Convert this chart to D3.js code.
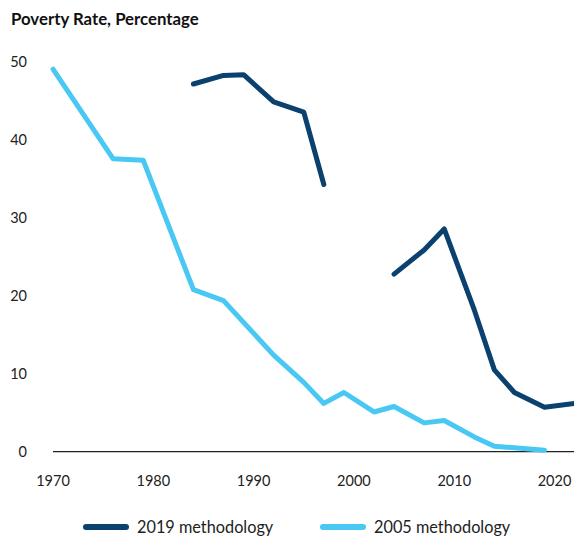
<!DOCTYPE html>
<html>
<head>
<meta charset="utf-8">
<script src="https://cdn.jsdelivr.net/npm/d3@7"></script>
<style>
  body { margin: 0; background: #fff; }
  svg { display: block; font-family: Lato, "Noto Sans", sans-serif; }
</style>
</head>
<body>
<svg id="chart" width="574" height="537"></svg>
<script>
// data
var years2005 = [1970, 1976, 1979, 1984, 1987, 1992, 1995, 1997, 1999, 2002, 2004, 2007, 2009, 2012, 2014, 2016, 2019];
var rate2005  = [49.1, 37.6, 37.4, 20.8, 19.4, 12.4, 8.9, 6.2, 7.6, 5.1, 5.8, 3.7, 4.0, 1.9, 0.7, 0.5, 0.2];

var years2019a = [1984, 1987, 1989, 1992, 1995, 1997];
var rate2019a  = [47.2, 48.3, 48.4, 44.9, 43.6, 34.3];
var years2019b = [2004, 2007, 2009, 2012, 2014, 2016, 2019, 2022];
var rate2019b  = [22.8, 25.9, 28.6, 18.2, 10.5, 7.6, 5.7, 6.2];

var yTicks = [0, 10, 20, 30, 40, 50];
var xTicks = [1970, 1980, 1990, 2000, 2010, 2020];
var seriesNames = ["2019 methodology", "2005 methodology"];
var colors = ["#0b416f", "#48c8f3"];

var svg = d3.select("#chart");

var x = d3.scaleLinear().domain([1970, 2022]).range([53, 574.6]);
var y = d3.scaleLinear().domain([0, 50]).range([451.7, 62.2]);

// title
svg.append("text")
    .attr("x", 11)
    .attr("y", 25)
    .attr("font-size", 16.8)
    .attr("font-weight", 700)
    .attr("fill", "#111")
    .text("Poverty Rate, Percentage");

// y tick labels
svg.append("g").selectAll("text")
    .data(yTicks)
    .enter().append("text")
    .attr("x", 27)
    .attr("y", function(d) { return y(d); })
    .attr("dy", "0.35em")
    .attr("text-anchor", "end")
    .attr("font-size", 14.5)
    .attr("fill", "#222")
    .text(function(d) { return d; });

// x tick labels
svg.append("g").selectAll("text")
    .data(xTicks)
    .enter().append("text")
    .attr("x", function(d) { return x(d); })
    .attr("y", 486)
    .attr("text-anchor", "middle")
    .attr("font-size", 14.5)
    .attr("fill", "#222")
    .text(function(d) { return d; });

// baseline
svg.append("line")
    .attr("x1", x(1970))
    .attr("x2", 574)
    .attr("y1", y(0))
    .attr("y2", y(0))
    .attr("stroke", "#222")
    .attr("stroke-width", 1.3);

var line = d3.line()
    .x(function(d) { return x(d[0]); })
    .y(function(d) { return y(d[1]); });

function draw(ys, vs, color) {
    svg.append("path")
        .datum(d3.zip(ys, vs))
        .attr("d", line)
        .attr("fill", "none")
        .attr("stroke", color)
        .attr("stroke-width", 5)
        .attr("stroke-linecap", "round")
        .attr("stroke-linejoin", "round");
}

draw(years2005, rate2005, colors[1]);
draw(years2019a, rate2019a, colors[0]);
draw(years2019b, rate2019b, colors[0]);

// legend
var legendX = [86, 323];
var lg = svg.append("g").selectAll("g")
    .data(seriesNames)
    .enter().append("g")
    .attr("transform", function(d, i) { return "translate(" + legendX[i] + ",527)"; });

lg.append("line")
    .attr("x1", 0).attr("x2", 40)
    .attr("stroke", function(d, i) { return colors[i]; })
    .attr("stroke-width", 6)
    .attr("stroke-linecap", "round");

lg.append("text")
    .attr("x", 51)
    .attr("dy", "0.35em")
    .attr("font-size", 16.3)
    .attr("fill", "#222")
    .text(function(d) { return d; });
</script>
</body>
</html>
